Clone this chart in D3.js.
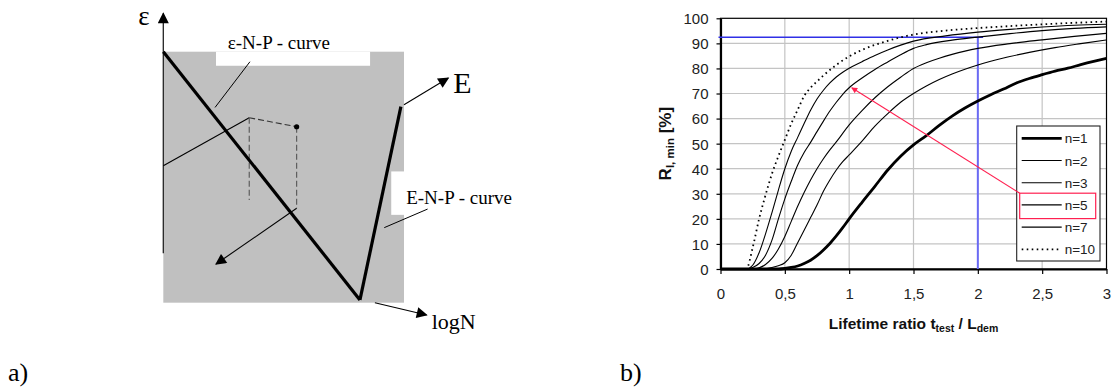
<!DOCTYPE html>
<html>
<head>
<meta charset="utf-8">
<script src="https://cdn.jsdelivr.net/npm/d3@7"></script>
<style>
  body { margin: 0; background: #fff; }
  svg { display: block; }
</style>
</head>
<body>
<svg id="fig" width="1113" height="388"></svg>
<script>
// ---------- panel b) data ----------
const seriesNames = ["n=1", "n=2", "n=3", "n=5", "n=7", "n=10"];
const xTicks = [0, 0.5, 1, 1.5, 2, 2.5, 3];
const yTicks = [0, 10, 20, 30, 40, 50, 60, 70, 80, 90, 100];

const n1 = [[0,0],[0.45,0],[0.5,0.2],[0.55,0.6],[0.6,1.2],[0.65,2.2],[0.7,3.5],[0.75,5.3],[0.8,7.6],[0.85,10.2],[0.9,13.2],[0.95,16.5],[1.0,20],[1.1,26.6],[1.2,33],[1.3,39.5],[1.4,45],[1.5,49.5],[1.6,53.2],[1.7,57.3],[1.8,61],[1.9,64.2],[2.0,67],[2.1,69.5],[2.2,71.8],[2.3,74.2],[2.4,76],[2.5,77.5],[2.6,78.9],[2.7,80.1],[2.8,81.5],[2.9,82.8],[3.0,84]];
const n2 = [[0,0],[0.3,0],[0.4,0.6],[0.45,1.3],[0.5,2.5],[0.55,5.5],[0.6,10.5],[0.65,15.5],[0.7,20.5],[0.75,25.5],[0.8,31],[0.85,35.5],[0.9,39.5],[0.95,42.8],[1.0,45.5],[1.1,51],[1.2,57],[1.3,62],[1.4,66.5],[1.5,70],[1.6,73],[1.7,75.6],[1.8,77.8],[1.9,79.7],[2.0,81.4],[2.2,84.2],[2.4,86.4],[2.6,88.3],[2.8,89.9],[3.0,91.4]];
const n3 = [[0,0],[0.25,0],[0.3,0.5],[0.35,1.8],[0.4,4.2],[0.45,8],[0.5,13],[0.55,19],[0.6,25],[0.65,30.5],[0.7,35.5],[0.75,40],[0.8,44],[0.85,47.5],[0.9,50.7],[1.0,57.5],[1.1,63.2],[1.2,68.3],[1.3,72.7],[1.4,76.5],[1.5,80],[1.6,82.3],[1.7,84.1],[1.8,85.6],[1.9,86.9],[2.0,88],[2.25,89.9],[2.5,91.4],[2.75,92.8],[3.0,94]];
const n5 = [[0,0],[0.2,0],[0.25,0.6],[0.3,2.2],[0.35,5.5],[0.4,11.5],[0.45,20],[0.5,28],[0.55,35],[0.6,41.5],[0.65,46.5],[0.7,50.5],[0.75,54.8],[0.8,59],[0.85,63],[0.9,66.5],[0.95,69.7],[1.0,72.3],[1.1,76.2],[1.2,79.6],[1.3,82.6],[1.4,85.5],[1.5,88],[1.6,89.5],[1.8,91.3],[2.0,92.5],[2.25,93.9],[2.5,95.1],[2.75,96],[3.0,96.6]];
const n7 = [[0,0],[0.2,0],[0.25,1.5],[0.3,6.5],[0.35,14],[0.4,22.5],[0.45,31.5],[0.5,40],[0.55,47],[0.6,52.5],[0.65,58],[0.7,63.3],[0.75,67.8],[0.8,71.3],[0.85,74.2],[0.9,76.6],[0.95,78.5],[1.0,80.1],[1.1,82.7],[1.2,85.2],[1.3,87.4],[1.4,89.3],[1.5,90.9],[1.75,93],[2.0,94.5],[2.25,95.6],[2.5,96.5],[2.75,97.2],[3.0,97.6]];
const n10 = [[0,0],[0.2,0],[0.25,8.5],[0.3,20],[0.35,29.5],[0.4,38],[0.45,45],[0.5,51.5],[0.55,58],[0.6,63.5],[0.65,69],[0.7,72.3],[0.75,74.8],[0.8,77.2],[0.9,81.4],[1.0,84.8],[1.1,87.4],[1.2,89.4],[1.3,91],[1.4,92.4],[1.5,93.5],[1.75,95.1],[2.0,96.1],[2.25,96.9],[2.5,97.6],[2.75,98.2],[3.0,98.7]];
const seriesValues = [n1, n2, n3, n5, n7, n10];

const refX = 2;          // blue vertical marker
const refY = 92.4;       // blue horizontal marker
const refXEnd = 2.04;    // where the horizontal one stops
const arrowTip = [1.02, 72.3];   // red arrow points at n=5 curve
const highlighted = "n=5";

// ---------- panel a) schematic (abstract units 0..100 over the grey field) ----------
const greyField = [[0, 0], [100, 100]];
const epsAxis = [[0, 19.7], [0, 115.3]];
const enpCurveEps = [[0, 100], [81.7, 1.1]];
const enpCurveE = [[81.7, 1.1], [98.7, 78.1]];
const arrowE = [[100, 78.9], [118.4, 89.5]];
const arrowLogN = [[87.9, 0], [109.4, -4.9]];
const thinLine = [[0, 54.6], [35.7, 73.7]];
const dashTop = [[35.7, 73.7], [55.4, 70.1]];
const dashLeft = [[35.7, 73.7], [35.7, 40.9]];
const dashRight = [[55.4, 70.1], [55.4, 37.6]];
const arrowDown = [[55.4, 37.6], [21.9, 15.4]];
const leaderEps = [[36.0, 96.0], [21.5, 77.8]];
const leaderE = [[109.8, 37.3], [91.8, 29.9]];
const labelBoxTop = [[21.9, 100], [85.9, 94.4]];
const labelBoxRight = [[94.7, 52.3], [150, 35.0]];
const statePoint = [55.4, 70.1];

const svg = d3.select("#fig");
const SERIF = "'Liberation Serif', 'DejaVu Serif', serif";
const SANS = "'Liberation Sans', Arial, sans-serif";

// ================= panel a) =================
const ax = d3.scaleLinear().domain([0, 100]).range([163.3, 404]);
const ay = d3.scaleLinear().domain([0, 100]).range([302.7, 51.7]);

const defs = svg.append("defs");
function marker(id, color, w, h) {
  defs.append("marker")
    .attr("id", id)
    .attr("viewBox", "0 0 10 10")
    .attr("refX", 9).attr("refY", 5)
    .attr("markerUnits", "userSpaceOnUse")
    .attr("markerWidth", w).attr("markerHeight", h)
    .attr("orient", "auto")
    .append("path").attr("d", "M0,0 L10,5 L0,10 Z").attr("fill", color);
}
marker("headBlack", "#000", 14, 11);
marker("headRed", "#ff2050", 8, 6);

const a = svg.append("g");
a.append("rect")
  .attr("x", ax(greyField[0][0])).attr("y", ay(greyField[1][1]))
  .attr("width", ax(greyField[1][0]) - ax(greyField[0][0]))
  .attr("height", ay(greyField[0][1]) - ay(greyField[1][1]))
  .attr("fill", "#c0c0c0");

[labelBoxTop, labelBoxRight].forEach(b => {
  a.append("rect")
    .attr("x", ax(b[0][0])).attr("y", ay(b[0][1]))
    .attr("width", ax(b[1][0]) - ax(b[0][0]))
    .attr("height", ay(b[1][1]) - ay(b[0][1]))
    .attr("fill", "#fff");
});

const seg = (pts, stroke, width, dash, head) => {
  const p = a.append("line")
    .attr("x1", ax(pts[0][0])).attr("y1", ay(pts[0][1]))
    .attr("x2", ax(pts[1][0])).attr("y2", ay(pts[1][1]))
    .attr("stroke", stroke).attr("stroke-width", width);
  if (dash) p.attr("stroke-dasharray", dash);
  if (head) p.attr("marker-end", `url(#${head})`);
  return p;
};

seg(epsAxis, "#222", 1.3, null, "headBlack");
seg(thinLine, "#000", 1.1);
seg(dashTop, "#333", 1.1, "6,3");
seg(dashLeft, "#555", 1.1, "6,3");
seg(dashRight, "#555", 1.1, "6,3");
seg(arrowDown, "#000", 1.1, null, "headBlack");
seg(enpCurveEps, "#000", 3.2);
seg(enpCurveE, "#000", 3.2);
seg(arrowE, "#000", 1.1, null, "headBlack");
seg(arrowLogN, "#000", 1.1, null, "headBlack");
seg(leaderEps, "#000", 1);
seg(leaderE, "#000", 1);

a.append("circle")
  .attr("cx", ax(statePoint[0])).attr("cy", ay(statePoint[1]))
  .attr("r", 2.6).attr("fill", "#000");

const aText = (txt, x, y, size, anchor) => a.append("text")
  .attr("x", x).attr("y", y)
  .attr("font-family", SERIF).attr("font-size", size)
  .attr("text-anchor", anchor || "start")
  .text(txt);

aText("ε", ax(-10.4), ay(110.5), 27);
aText("ε-N-P - curve", ax(26.8), ay(100.9), 19);
aText("E-N-P - curve", ax(100.9), ay(39.5), 19);
aText("E", ax(120.5), ay(83.4), 30);
aText("logN", ax(111.5), ay(-10.3), 22);
aText("a)", 8, 381, 26);

// ================= panel b) =================
const x = d3.scaleLinear().domain([0, 3]).range([720.5, 1106.5]);
const y = d3.scaleLinear().domain([0, 100]).range([269, 18.3]);
const fmt = d => String(d).replace(".", ",");

const b = svg.append("g");

// grid
b.append("g").selectAll("line")
  .data(yTicks.filter(t => t > 0 && t < 100))
  .join("line")
  .attr("x1", x(0)).attr("x2", x(3))
  .attr("y1", d => y(d)).attr("y2", d => y(d))
  .attr("stroke", "#c4c4c4").attr("stroke-width", 1.2);
b.append("g").selectAll("line")
  .data(xTicks.filter(t => t > 0 && t < 3))
  .join("line")
  .attr("x1", d => x(d)).attr("x2", d => x(d))
  .attr("y1", y(0)).attr("y2", y(100))
  .attr("stroke", "#c4c4c4").attr("stroke-width", 1.2);

// frame
b.append("rect")
  .attr("x", x(0)).attr("y", y(100))
  .attr("width", x(3) - x(0)).attr("height", y(0) - y(100))
  .attr("fill", "none").attr("stroke", "#000").attr("stroke-width", 1.2);

// axes
const xAxis = b.append("g")
  .attr("transform", `translate(0,${y(0)})`)
  .call(d3.axisBottom(x).tickValues(xTicks).tickFormat(fmt).tickSize(5).tickSizeOuter(0));
const yAxis = b.append("g")
  .attr("transform", `translate(${x(0)},0)`)
  .call(d3.axisLeft(y).tickValues(yTicks).tickSize(4).tickSizeOuter(0));
[xAxis, yAxis].forEach(g => {
  g.select(".domain").attr("stroke", "#000").attr("stroke-width", 2.2);
  g.selectAll(".tick line").attr("stroke", "#000").attr("stroke-width", 1.2);
  g.selectAll(".tick text")
    .attr("font-family", SANS).attr("font-size", 15).attr("fill", "#222");
});
xAxis.selectAll(".tick text").attr("dy", null).attr("y", 30);
yAxis.selectAll(".tick text").attr("x", -12).attr("dy", "0.36em");

// blue markers
b.append("line")
  .attr("x1", x(0) - 2).attr("x2", x(refXEnd))
  .attr("y1", y(refY)).attr("y2", y(refY))
  .attr("stroke", "#3030e6").attr("stroke-width", 1.5);
b.append("line")
  .attr("x1", x(refX)).attr("x2", x(refX))
  .attr("y1", y(refY)).attr("y2", y(0))
  .attr("stroke", "#6a6af5").attr("stroke-width", 2);

// curves
const line = d3.line()
  .x(d => x(d[0])).y(d => y(d[1]))
  .curve(d3.curveMonotoneX);
const styleOf = name => {
  if (name === "n=1") return { w: 2.8, dash: null };
  if (name === "n=10") return { w: 1.8, dash: "1.6,3.4" };
  return { w: 1.1, dash: null };
};
b.append("g").selectAll("path")
  .data(seriesNames.map((name, i) => ({ name, values: seriesValues[i] })))
  .join("path")
  .attr("d", d => line(d.values))
  .attr("fill", "none")
  .attr("stroke", "#000")
  .attr("stroke-width", d => styleOf(d.name).w)
  .attr("stroke-dasharray", d => styleOf(d.name).dash);

// legend
const legX = 1016.7, legY = 126, legW = 83.3, legH = 135, rowH = 22.2, row0 = 12.3;
const legend = b.append("g").attr("transform", `translate(${legX},${legY})`);
legend.append("rect")
  .attr("width", legW).attr("height", legH)
  .attr("fill", "#fff").attr("stroke", "#222").attr("stroke-width", 1.1);
seriesNames.forEach((name, i) => {
  const s = styleOf(name);
  const ly = row0 + i * rowH;
  legend.append("line")
    .attr("x1", 5).attr("x2", 45).attr("y1", ly).attr("y2", ly)
    .attr("stroke", "#000").attr("stroke-width", s.w)
    .attr("stroke-dasharray", s.dash);
  legend.append("text")
    .attr("x", 48).attr("y", ly + 5)
    .attr("font-family", SANS).attr("font-size", 13.5).attr("fill", "#222")
    .text(name);
});

// red highlight box + arrow
const hi = seriesNames.indexOf(highlighted);
const boxX = legX + 3, boxY = legY + row0 + hi * rowH - 11.7;
b.append("rect")
  .attr("x", boxX).attr("y", boxY)
  .attr("width", 76).attr("height", 25.4)
  .attr("fill", "none").attr("stroke", "#ff2050").attr("stroke-width", 1.2);
b.append("line")
  .attr("x1", boxX).attr("y1", boxY)
  .attr("x2", x(arrowTip[0])).attr("y2", y(arrowTip[1]))
  .attr("stroke", "#ff2050").attr("stroke-width", 1.1)
  .attr("marker-end", "url(#headRed)");

// axis titles
const xt = b.append("text")
  .attr("x", (x(0) + x(3)) / 2).attr("y", 329)
  .attr("text-anchor", "middle")
  .attr("font-family", SANS).attr("font-size", 15.5).attr("font-weight", "bold")
  .attr("fill", "#111");
xt.append("tspan").text("Lifetime ratio t");
xt.append("tspan").attr("font-size", 10.5).attr("dy", 3).text("test");
xt.append("tspan").attr("dy", -3).text(" / L");
xt.append("tspan").attr("font-size", 10.5).attr("dy", 3).text("dem");

const yt = b.append("text")
  .attr("transform", `translate(671,${(y(0) + y(100)) / 2}) rotate(-90)`)
  .attr("text-anchor", "middle")
  .attr("font-family", SANS).attr("font-size", 17).attr("font-weight", "bold")
  .attr("fill", "#111");
yt.append("tspan").text("R");
yt.append("tspan").attr("font-size", 11.5).attr("dy", 3).text("I, min");
yt.append("tspan").attr("dy", -3).text("  [%]");

b.append("text")
  .attr("x", 620).attr("y", 381)
  .attr("font-family", SERIF).attr("font-size", 26)
  .text("b)");
</script>
</body>
</html>
